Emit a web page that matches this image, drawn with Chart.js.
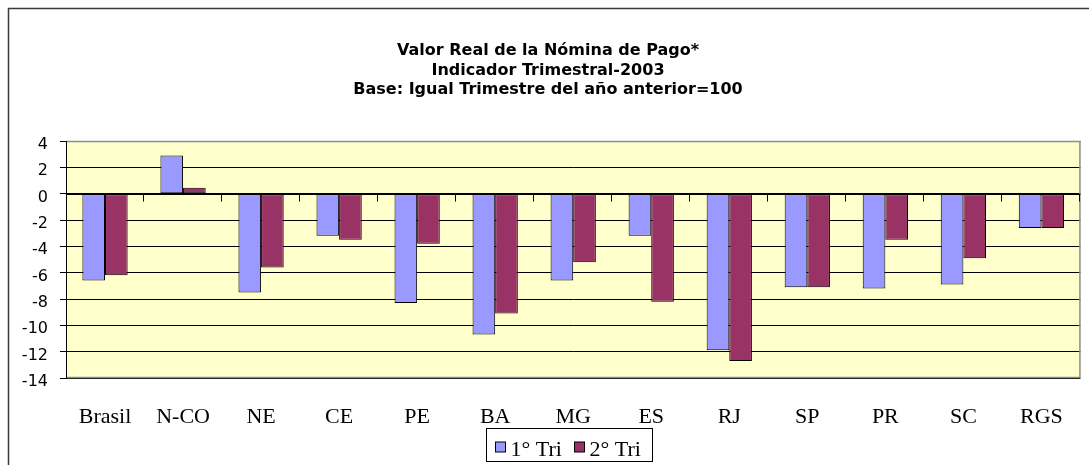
<!DOCTYPE html>
<html>
<head>
<meta charset="utf-8">
<script src="https://cdn.jsdelivr.net/npm/chart.js@4.4.1/dist/chart.umd.min.js"></script>
<style>
  html, body { margin: 0; padding: 0; background: #ffffff; }
  #wrap { width: 1089px; height: 465px; position: relative; }
</style>
</head>
<body>
<div id="wrap"><canvas id="c" width="1089" height="465"></canvas></div>
<script>
const categories = ['Brasil', 'N-CO', 'NE', 'CE', 'PE', 'BA', 'MG', 'ES', 'RJ', 'SP', 'PR', 'SC', 'RGS'];
const tri1 = [-6.6, 2.9, -7.5, -3.2, -8.3, -10.7, -6.6, -3.2, -11.9, -7.1, -7.2, -6.9, -2.6];
const tri2 = [-6.2, 0.45, -5.6, -3.5, -3.8, -9.1, -5.2, -8.2, -12.7, -7.1, -3.5, -4.9, -2.6];
const seriesNames = ['1° Tri', '2° Tri'];
const titleLines = [
  'Valor Real de la Nómina de Pago*',
  'Indicador Trimestral-2003',
  'Base: Igual Trimestre del año anterior=100'
];
const yMin = -14, yMax = 4, yStep = 2;

const colors = ['#9999FF', '#993366'];

const framePlugin = {
  id: 'frame',
  beforeDraw(chart) {
    const ctx = chart.ctx, a = chart.chartArea;
    ctx.save();
    ctx.fillStyle = '#ffffff';
    ctx.fillRect(0, 0, chart.width, chart.height);
    // outer chart frame (extends beyond the picture right and bottom)
    ctx.strokeStyle = '#3a3a3a';
    ctx.lineWidth = 1.5;
    ctx.beginPath();
    ctx.moveTo(8.5, chart.height + 5);
    ctx.lineTo(8.5, 8.5);
    ctx.lineTo(chart.width + 5, 8.5);
    ctx.stroke();
    // plot area background
    ctx.fillStyle = '#FFFFCC';
    ctx.fillRect(a.left, a.top, a.right - a.left, a.bottom - a.top);
    ctx.restore();
  },
  afterDraw(chart) {
    const ctx = chart.ctx, a = chart.chartArea;
    const xs = chart.scales.x, ys = chart.scales.y;
    ctx.save();
    // plot area gray border (top, right, bottom)
    ctx.strokeStyle = '#8c8c8c';
    ctx.lineWidth = 1.5;
    ctx.beginPath();
    ctx.moveTo(a.left, a.top + 0.5);
    ctx.lineTo(a.right - 0.5, a.top + 0.5);
    ctx.lineTo(a.right - 0.5, a.bottom - 0.5);
    ctx.lineTo(a.left, a.bottom - 0.5);
    ctx.stroke();
    // left value axis
    ctx.strokeStyle = '#000';
    ctx.lineWidth = 1;
    ctx.beginPath();
    ctx.moveTo(a.left + 0.5, a.top);
    ctx.lineTo(a.left + 0.5, a.bottom);
    ctx.stroke();
    // category axis at zero with tick marks between categories
    const y0 = Math.round(ys.getPixelForValue(0)) + 0.5;
    const n = categories.length;
    const w = (xs.right - xs.left) / n;
    ctx.beginPath();
    ctx.moveTo(a.left, y0);
    ctx.lineTo(a.right, y0);
    for (let i = 1; i <= n; i++) {
      const x = Math.round(xs.left + i * w) - 0.5;
      ctx.moveTo(x, y0);
      ctx.lineTo(x, y0 + 7);
    }
    ctx.stroke();

    // title
    ctx.fillStyle = '#000';
    ctx.font = 'bold 16px "DejaVu Sans", Arial, sans-serif';
    ctx.textAlign = 'center';
    ctx.textBaseline = 'alphabetic';
    const tx = 548;
    const baselines = [55, 75, 94];
    titleLines.forEach((t, i) => ctx.fillText(t, tx, baselines[i]));

    // legend
    const cx = (a.left + a.right) / 2 - 4;
    const lw = 166, lh = 33;
    const lx = Math.round(cx - lw / 2) + 0.5, ly = 428.5;
    ctx.strokeStyle = '#000';
    ctx.lineWidth = 1;
    ctx.strokeRect(lx, ly, lw, lh);
    ctx.font = '22px "Liberation Serif", "Times New Roman", serif';
    ctx.textAlign = 'left';
    ctx.textBaseline = 'alphabetic';
    let x = lx + 9;
    chart.data.datasets.forEach((ds, i) => {
      ctx.fillStyle = ds.backgroundColor;
      ctx.fillRect(x, ly + 13.5, 10, 10);
      ctx.strokeRect(x, ly + 13.5, 10, 10);
      ctx.fillStyle = '#000';
      ctx.fillText(ds.label, x + 15, ly + 27);
      x += 79;
    });
    ctx.restore();
  }
};

new Chart(document.getElementById('c'), {
  type: 'bar',
  data: {
    labels: categories,
    datasets: [
      { label: seriesNames[0], data: tri1, backgroundColor: colors[0], borderColor: '#000', borderWidth: 1, borderSkipped: false },
      { label: seriesNames[1], data: tri2, backgroundColor: colors[1], borderColor: '#000', borderWidth: 1, borderSkipped: false }
    ]
  },
  options: {
    responsive: false,
    animation: false,
    devicePixelRatio: 1,
    layout: { padding: { top: 141, right: 5, bottom: 40, left: 0 } },
    datasets: { bar: { categoryPercentage: 0.58, barPercentage: 1.0 } },
    plugins: {
      legend: { display: false },
      title: { display: false },
      tooltip: { enabled: false }
    },
    scales: {
      x: {
        grid: { display: false, drawTicks: false },
        border: { display: false },
        ticks: {
          color: '#000',
          padding: 26,
          maxRotation: 0,
          autoSkip: false,
          font: { family: '"Liberation Serif", "Times New Roman", serif', size: 22 }
        },
        afterFit(scale) { scale.height = 47; }
      },
      y: {
        min: yMin,
        max: yMax,
        grid: {
          color: '#000',
          lineWidth: 1,
          tickLength: 6,
          drawTicks: true
        },
        border: { display: false },
        ticks: {
          stepSize: yStep,
          color: '#000',
          padding: 12,
          labelOffset: 4,
          font: { family: '"DejaVu Sans", Arial, sans-serif', size: 16 }
        },
        afterFit(scale) { scale.width = 66; }
      }
    }
  },
  plugins: [framePlugin]
});
</script>
</body>
</html>
